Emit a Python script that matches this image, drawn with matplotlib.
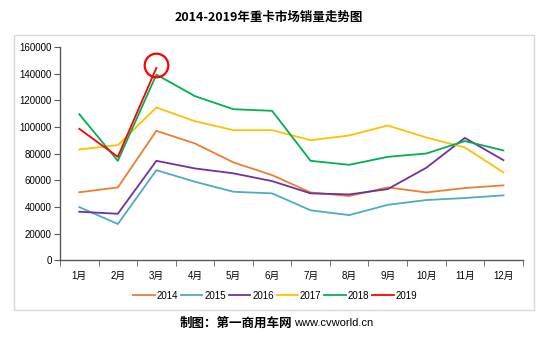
import matplotlib.pyplot as plt
from matplotlib.patches import Rectangle

plt.rcParams['font.family'] = ['Liberation Sans', 'Noto Sans CJK SC', 'DejaVu Sans']

months = ['1月', '2月', '3月', '4月', '5月', '6月', '7月', '8月', '9月', '10月', '11月', '12月']
y2014 = [51000, 54700, 97100, 87600, 73400, 63900, 50900, 48200, 54700, 50900, 54200, 56200]
y2015 = [39900, 27200, 67600, 58900, 51400, 50200, 37500, 33900, 41600, 45200, 46700, 48700]
y2016 = [36400, 34900, 74600, 68900, 65200, 59400, 50200, 49400, 53400, 69400, 91800, 75100]
y2017 = [83100, 86400, 114600, 104300, 97600, 97600, 90100, 93600, 101100, 92100, 84600, 65900]
y2018 = [109600, 74600, 139300, 123100, 113300, 112100, 74600, 71600, 77600, 80100, 89400, 82400]
y2019 = [98600, 77600, 144300]

series = [('2014', y2014, '#ED7D31'), ('2015', y2015, '#4BACC6'),
          ('2016', y2016, '#7030A0'), ('2017', y2017, '#FFC000'),
          ('2018', y2018, '#00B050'), ('2019', y2019, '#FF0000')]

fig = plt.figure(figsize=(5.54, 3.43), dpi=100)
# outer frame
fig.patches.append(Rectangle((14 / 554, 1 - 310 / 343), 520 / 554, 275 / 343,
                             transform=fig.transFigure, fill=False,
                             edgecolor='#D9D9D9', lw=1))
ax = fig.add_axes([0.1083, 0.2411, 0.8352, 0.622])

x = list(range(len(months)))
for name, vals, col in series:
    ax.plot(x[:len(vals)], vals, color=col, lw=1.3, label=name)

# red highlight circle on the 2019 March peak
ax.plot(x[2], y2019[2] + 2000, 'o', ms=17, mfc='none', mec='#FF0000', mew=1.6,
        clip_on=False)

ax.set_xlim(-0.5, 11.5)
ax.set_ylim(0, 160000)
ax.set_yticks(range(0, 160001, 20000))
ax.set_yticklabels([str(v) for v in range(0, 160001, 20000)], fontsize=7)
ax.set_xticks(x)
ax.set_xticklabels(months, fontsize=7)
ax.set_xticks([i - 0.5 for i in range(13)], minor=True)
ax.tick_params(axis='x', which='major', length=0, pad=8)
ax.tick_params(axis='x', which='minor', length=4, color='#595959')
ax.tick_params(axis='y', length=4, color='#595959', pad=2)
for s in ['top', 'right']:
    ax.spines[s].set_visible(False)
for s in ['left', 'bottom']:
    ax.spines[s].set_color('#595959')
    ax.spines[s].set_linewidth(1)

ax.legend(loc='center', bbox_to_anchor=(0.465, -0.165), ncol=6, frameon=False,
          fontsize=7, handlelength=2.2, handletextpad=0.2, columnspacing=0.3)

fig.text(0.486, 1 - 17 / 343, '2014-2019年重卡市场销量走势图', ha='center',
         va='center', fontsize=9, fontweight='bold',
         family=['Noto Sans CJK SC', 'DejaVu Sans'])
fig.text(0.527, 1 - 323 / 343, '制图：第一商用车网', ha='right', va='center',
         fontsize=9, fontweight='bold', family=['Noto Sans CJK SC'])
fig.text(0.531, 1 - 323 / 343, 'www.cvworld.cn', ha='left', va='center',
         fontsize=8)

fig.savefig('out.png', dpi=100)
